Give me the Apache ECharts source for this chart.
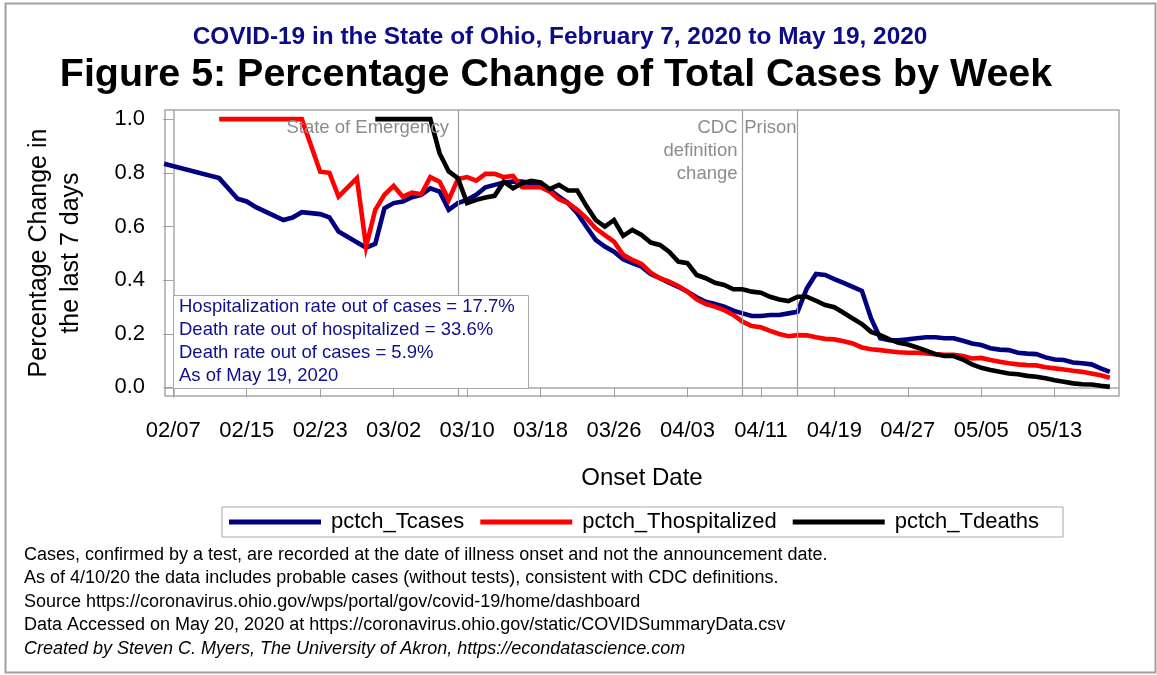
<!DOCTYPE html>
<html>
<head>
<meta charset="utf-8">
<script src="https://cdn.jsdelivr.net/npm/echarts@6/dist/echarts.min.js"></script>
<style>
html,body{margin:0;padding:0;background:#fff;}
#chart{width:1157px;height:675px;}
</style>
</head>
<body>
<div id="chart"></div>
<script>
// x values are days since 02/07/2020
const START = Date.UTC(2020, 1, 7);
const xTickDays = [0, 8, 16, 24, 32, 40, 48, 56, 64, 72, 80, 88, 96];
const yTicks = [0.0, 0.2, 0.4, 0.6, 0.8, 1.0];

const casesDays = [-1, 5, 7, 8, 9, 12, 13, 14, 16, 17, 18, 21, 22, 23, 24, 25, 26, 27, 28, 29, 30, 31, 32, 33, 34, 35, 36, 37, 38, 39, 40, 41, 42, 43, 44, 45, 46, 47, 48, 49, 50, 51, 52, 53, 54, 55, 56, 57, 58, 59, 60, 61, 62, 63, 64, 65, 66, 67, 68, 69, 70, 71, 72, 73, 74, 75, 76, 77, 78, 79, 80, 81, 82, 83, 84, 85, 86, 87, 88, 89, 90, 91, 92, 93, 94, 95, 96, 97, 98, 99, 100, 101, 102];
const casesVals = [0.834, 0.780, 0.703, 0.693, 0.672, 0.624, 0.633, 0.653, 0.646, 0.634, 0.581, 0.521, 0.535, 0.668, 0.687, 0.693, 0.709, 0.718, 0.742, 0.730, 0.662, 0.687, 0.699, 0.718, 0.746, 0.755, 0.764, 0.767, 0.767, 0.761, 0.758, 0.736, 0.711, 0.687, 0.649, 0.599, 0.550, 0.525, 0.506, 0.478, 0.463, 0.450, 0.423, 0.407, 0.390, 0.375, 0.357, 0.336, 0.319, 0.311, 0.301, 0.286, 0.276, 0.266, 0.266, 0.270, 0.270, 0.276, 0.282, 0.369, 0.423, 0.419, 0.404, 0.390, 0.375, 0.360, 0.257, 0.183, 0.176, 0.176, 0.179, 0.183, 0.187, 0.187, 0.183, 0.183, 0.174, 0.164, 0.158, 0.146, 0.141, 0.139, 0.129, 0.126, 0.124, 0.112, 0.104, 0.102, 0.093, 0.090, 0.086, 0.071, 0.058];

const hospDays = [5, 14, 16, 17, 18, 20, 21, 22, 23, 24, 25, 26, 27, 28, 29, 30, 31, 32, 33, 34, 35, 36, 37, 38, 39, 40, 41, 42, 43, 44, 45, 46, 47, 48, 49, 50, 51, 52, 53, 54, 55, 56, 57, 58, 59, 60, 61, 62, 63, 64, 65, 66, 67, 68, 69, 70, 71, 72, 73, 74, 75, 76, 77, 78, 79, 80, 81, 82, 83, 84, 85, 86, 87, 88, 89, 90, 91, 92, 93, 94, 95, 96, 97, 98, 99, 100, 101, 102];
const hospVals = [1.0, 1.0, 0.804, 0.800, 0.711, 0.780, 0.525, 0.662, 0.718, 0.751, 0.711, 0.726, 0.720, 0.784, 0.767, 0.699, 0.777, 0.784, 0.771, 0.796, 0.796, 0.784, 0.788, 0.746, 0.746, 0.746, 0.730, 0.701, 0.687, 0.662, 0.631, 0.593, 0.568, 0.543, 0.494, 0.475, 0.460, 0.428, 0.407, 0.394, 0.378, 0.357, 0.328, 0.311, 0.301, 0.288, 0.270, 0.245, 0.229, 0.224, 0.211, 0.199, 0.191, 0.195, 0.194, 0.187, 0.181, 0.179, 0.172, 0.164, 0.149, 0.142, 0.139, 0.135, 0.131, 0.129, 0.129, 0.127, 0.124, 0.122, 0.122, 0.117, 0.108, 0.110, 0.102, 0.096, 0.090, 0.086, 0.083, 0.082, 0.075, 0.071, 0.067, 0.062, 0.058, 0.052, 0.045, 0.036];

const deathsDays = [22, 28, 29, 30, 31, 32, 33, 34, 35, 36, 37, 38, 39, 40, 41, 42, 43, 44, 45, 46, 47, 48, 49, 50, 51, 52, 53, 54, 55, 56, 57, 58, 59, 60, 61, 62, 63, 64, 65, 66, 67, 68, 69, 70, 71, 72, 73, 74, 75, 76, 77, 78, 79, 80, 81, 82, 83, 84, 85, 86, 87, 88, 89, 90, 91, 92, 93, 94, 95, 96, 97, 98, 99, 100, 101, 102];
const deathsVals = [1.0, 1.0, 0.873, 0.805, 0.780, 0.687, 0.699, 0.708, 0.714, 0.767, 0.742, 0.761, 0.770, 0.764, 0.739, 0.755, 0.734, 0.734, 0.676, 0.624, 0.599, 0.624, 0.565, 0.587, 0.568, 0.540, 0.531, 0.506, 0.469, 0.463, 0.419, 0.407, 0.390, 0.382, 0.366, 0.366, 0.357, 0.353, 0.338, 0.328, 0.322, 0.338, 0.338, 0.323, 0.307, 0.299, 0.278, 0.257, 0.236, 0.207, 0.195, 0.179, 0.166, 0.160, 0.149, 0.137, 0.124, 0.117, 0.117, 0.104, 0.086, 0.073, 0.065, 0.058, 0.052, 0.049, 0.043, 0.040, 0.034, 0.027, 0.021, 0.015, 0.012, 0.011, 0.006, 0.002];

const seriesNames = ['pctch_Tcases', 'pctch_Thospitalized', 'pctch_Tdeaths'];
const seriesColors = ['#000080', '#ff0000', '#000000'];

const refLineDays = [31, 62, 68];
const refLineLabels = ['State of Emergency', 'CDC\ndefinition\nchange', 'Prison'];

const statsLines = [
  'Hospitalization rate out of cases = 17.7%',
  'Death rate out of hospitalized = 33.6%',
  'Death rate out of cases = 5.9%',
  'As of May 19, 2020'
];
const footnotes = [
  'Cases, confirmed by a test, are recorded at the date of illness onset and not the announcement date.',
  'As of 4/10/20 the data includes probable cases (without tests), consistent with CDC definitions.',
  'Source https://coronavirus.ohio.gov/wps/portal/gov/covid-19/home/dashboard',
  'Data Accessed on May 20, 2020 at https://coronavirus.ohio.gov/static/COVIDSummaryData.csv',
  'Created by Steven C. Myers, The University of Akron, https://econdatascience.com'
];

const FONT = '"Liberation Sans", Arial, sans-serif';

function dayLabel(d) {
  const dt = new Date(START + d * 86400000);
  const m = String(dt.getUTCMonth() + 1).padStart(2, '0');
  const dd = String(dt.getUTCDate()).padStart(2, '0');
  return m + '/' + dd;
}
function zip(xs, ys) { return xs.map((x, i) => [x, ys[i]]); }

const chart = echarts.init(document.getElementById('chart'), null, {renderer: 'canvas'});

const lineData = [zip(casesDays, casesVals), zip(hospDays, hospVals), zip(deathsDays, deathsVals)];

const option = {
  backgroundColor: '#ffffff',
  animation: false,
  title: [
    {text: 'COVID-19 in the State of Ohio, February 7, 2020 to May 19, 2020', left: 555, top: 20, textAlign: 'center',
     textStyle: {fontFamily: FONT, fontWeight: 'bold', fontSize: 24.4, color: '#0c0c86'}},
    {text: 'Figure 5: Percentage Change of Total Cases by Week', left: 551, top: 51, textAlign: 'center',
     textStyle: {fontFamily: FONT, fontWeight: 'bold', fontSize: 39.4, color: '#000000'}}
  ],
  grid: {left: 165, top: 110, right: 38, bottom: 279, show: true, borderColor: '#a8a8a8', borderWidth: 1.5, backgroundColor: 'transparent'},
  legend: {
    data: seriesNames, left: 222, top: 507, orient: 'horizontal',
    icon: 'rect', itemWidth: 92, itemHeight: 5, itemGap: 16,
    padding: [4, 24, 4, 7], borderColor: '#a8a8a8', borderWidth: 1,
    textStyle: {fontFamily: FONT, fontSize: 22, color: '#000', padding: [0, 0, 0, 5], lineHeight: 22}
  },
  xAxis: {
    type: 'value', min: -0.9, max: 103,
    name: 'Onset Date', nameLocation: 'middle', nameGap: 70,
    nameTextStyle: {fontFamily: FONT, fontSize: 24, color: '#000'},
    axisLine: {show: true, lineStyle: {color: '#a8a8a8', width: 1.5}},
    axisTick: {show: true, length: 10, lineStyle: {color: '#a0a0a0'}, customValues: xTickDays},
    axisLabel: {customValues: xTickDays, formatter: v => dayLabel(v), fontFamily: FONT, fontSize: 22, color: '#000', margin: 24},
    splitLine: {show: false}
  },
  yAxis: {
    type: 'value', min: -0.032, max: 1.034,
    name: 'Percentage Change in\nthe last 7 days', nameLocation: 'middle', nameRotate: 90, nameGap: 78,
    nameTextStyle: {fontFamily: FONT, fontSize: 25, color: '#000', lineHeight: 32},
    axisLine: {show: true, lineStyle: {color: '#a8a8a8', width: 1.5}},
    axisTick: {show: true, length: 10, lineStyle: {color: '#a0a0a0'}, customValues: yTicks},
    axisLabel: {customValues: yTicks, formatter: v => v.toFixed(1), fontFamily: FONT, fontSize: 22, color: '#000', margin: 20},
    splitLine: {show: false}
  },
  series: [
    {
      name: '_ref', type: 'line', data: [], silent: true, z: 1,
      markLine: {
        silent: true, symbol: 'none', animation: false,
        lineStyle: {color: '#a0a0a0', width: 1.2, type: 'solid'},
        label: {show: false},
        data: refLineDays.map(d => ({xAxis: d}))
      }
    }
  ].concat(seriesNames.map((n, i) => ({
    name: n, type: 'line', data: lineData[i], showSymbol: false, symbol: 'none',
    z: 3 + i, clip: true,
    lineStyle: {color: seriesColors[i], width: 4.6, join: 'miter'},
    itemStyle: {color: seriesColors[i]}
  })))
};
chart.setOption(option);

// annotations positioned through the axis scale
const refPx = refLineDays.map(d => chart.convertToPixel({xAxisIndex: 0}, d));
const refOffsets = [-9, -5, -1];
const graphics = [
  {type: 'rect', z: 100, shape: {x: 5.5, y: 3.5, width: 1150, height: 669}, style: {fill: 'none', stroke: '#a0a0a0', lineWidth: 2}, silent: true},
  {type: 'rect', z: 100, shape: {x: 173.5, y: 295.5, width: 355, height: 93}, style: {fill: '#fff', stroke: '#a8a8a8', lineWidth: 1}, silent: true}
];
statsLines.forEach((t, i) => graphics.push({
  type: 'text', z: 101, left: 179, top: 297 + i * 23,
  style: {text: t, fontFamily: FONT, fontSize: 18.5, fill: '#10108a'}
}));
refLineLabels.forEach((t, i) => graphics.push({
  type: 'text', z: 101, x: refPx[i] + refOffsets[i], y: 116,
  style: {text: t, fontFamily: FONT, fontSize: 18.5, fill: '#8c8c8c', align: 'right', verticalAlign: 'top', lineHeight: 23}
}));
footnotes.forEach((t, i) => graphics.push({
  type: 'text', z: 101, left: 24, top: 546 + i * 23.5,
  style: {text: t, fontFamily: FONT, fontSize: 18, fill: '#000', fontStyle: i === 4 ? 'italic' : 'normal'}
}));
chart.setOption({graphic: graphics});
</script>
</body>
</html>
